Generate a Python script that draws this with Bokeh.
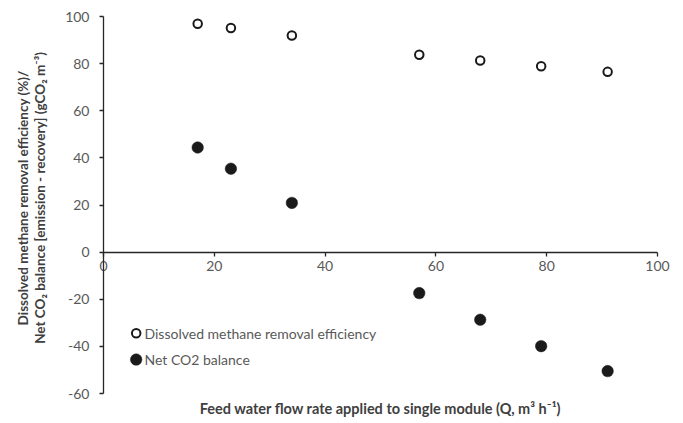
import math
from bokeh.plotting import figure
from bokeh.models import Range1d, LinearAxis, FixedTicker, Label, PrintfTickFormatter
from bokeh.embed import file_html
from bokeh.resources import INLINE

flow_rate = [17, 23, 34, 57, 68, 79, 91]
removal_eff = [96.9, 95.1, 91.9, 83.8, 81.3, 78.9, 76.5]
net_co2 = [44.4, 35.4, 20.9, -17.4, -28.7, -39.9, -50.5]
x_ticks = [0, 20, 40, 60, 80, 100]
y_ticks = [-60, -40, -20, 0, 20, 40, 60, 80, 100]
legend_labels = ["Dissolved methane removal efficiency", "Net CO2 balance"]
x_title = "Feed water flow rate applied to single module (Q, m\u00b3 h\u207b\u00b9)"
y_title_1 = "Dissolved methane removal efficiency (%)/"
y_title_2 = "Net CO\u2082 balance [emission - recovery] (gCO\u2082 m\u207b\u00b3)"

FONT = "Lato"
TXT = "#404040"
TICK_TXT = "#595959"
AX = "#262626"

W, H = 683, 423
# pixel geometry of plotting area within the canvas
px0, px100 = 103.0, 657.0
py100, pym60 = 16.0, 393.0
sx = (px100 - px0) / 100.0
sy = (pym60 - py100) / 160.0
x_lo = -px0 / sx
x_hi = x_lo + W / sx
y_hi = 100 + py100 / sy
y_lo = y_hi - H / sy

p = figure(width=W, height=H, output_backend="svg", toolbar_location=None,
           x_range=Range1d(x_lo, x_hi), y_range=Range1d(y_lo, y_hi),
           min_border=0, min_border_left=0, min_border_right=0, min_border_top=0, min_border_bottom=0,
           x_axis_type=None, y_axis_type=None)
p.outline_line_color = None
p.grid.visible = False
p.background_fill_color = "white"
p.border_fill_color = "white"

yax = LinearAxis(ticker=FixedTicker(ticks=y_ticks), fixed_location=0, bounds=(-60, 100),
                 formatter=PrintfTickFormatter(format="%d"))
yax.axis_line_color = AX
yax.axis_line_width = 1.3
yax.major_tick_line_color = AX
yax.major_tick_line_width = 1.3
yax.major_tick_out = 4
yax.major_tick_in = 0
yax.minor_tick_line_color = None
yax.major_label_text_font = FONT
yax.major_label_text_font_size = "14px"
yax.major_label_text_color = TICK_TXT
yax.major_label_standoff = 10
p.add_layout(yax, "left")

xax = LinearAxis(ticker=FixedTicker(ticks=x_ticks), fixed_location=0, bounds=(0, 100),
                 formatter=PrintfTickFormatter(format="%d"))
xax.axis_line_color = AX
xax.axis_line_width = 1.3
xax.major_tick_line_color = AX
xax.major_tick_line_width = 1.3
xax.major_tick_out = 4
xax.major_tick_in = 0
xax.minor_tick_line_color = None
xax.major_label_text_font = FONT
xax.major_label_text_font_size = "14px"
xax.major_label_text_color = TICK_TXT
xax.major_label_standoff = 5
p.add_layout(xax, "below")

p.scatter(flow_rate, removal_eff, size=8.5, fill_color="white", line_color="#1a1a1a", line_width=2)
p.scatter(flow_rate, net_co2, size=11.5, fill_color="#1a1a1a", line_color="#1a1a1a", line_width=0.5)

# legend
p.scatter([5.9], [-34.4], size=8.5, fill_color="white", line_color="#1a1a1a", line_width=2)
p.scatter([5.9], [-45.6], size=11.5, fill_color="#1a1a1a", line_color="#1a1a1a", line_width=0.5)
p.add_layout(Label(x=7.4, y=-34.4, text=legend_labels[0], text_font=FONT, text_font_size="14px",
                   text_color=TICK_TXT, text_baseline="middle"))
p.add_layout(Label(x=7.4, y=-45.6, text=legend_labels[1], text_font=FONT, text_font_size="14px",
                   text_color=TICK_TXT, text_baseline="middle"))

# axis titles
p.add_layout(Label(x=50, y=-(408 - (py100 + 100 * sy)) / sy, text=x_title,
                   text_font=FONT, text_font_size="14.5px", text_font_style="bold",
                   text_color=TXT, text_align="center", text_baseline="middle"))
p.add_layout(Label(x=(22 - px0) / sx, y=23, text=y_title_1,
                   text_font=FONT, text_font_size="13.5px", text_font_style="bold", angle=math.pi / 2,
                   text_color=TXT, text_align="center", text_baseline="middle"))
p.add_layout(Label(x=(39 - px0) / sx, y=23, text=y_title_2,
                   text_font=FONT, text_font_size="13.5px", text_font_style="bold", angle=math.pi / 2,
                   text_color=TXT, text_align="center", text_baseline="middle"))

open("out.html", "w").write(file_html(p, INLINE))
